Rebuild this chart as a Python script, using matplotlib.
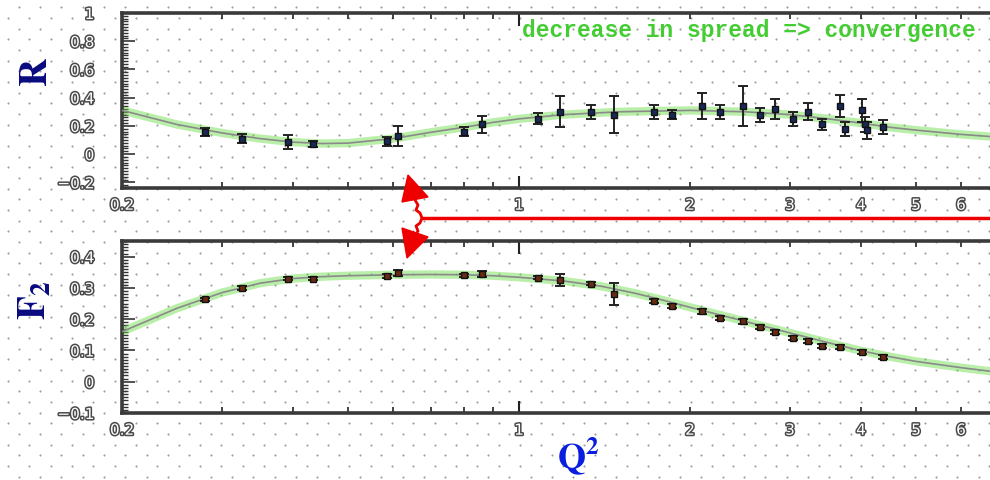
import numpy as np
import matplotlib
matplotlib.use("Agg")
import matplotlib.pyplot as plt
from matplotlib.ticker import FixedLocator, FixedFormatter, MultipleLocator, NullFormatter
from matplotlib.patches import Polygon
import matplotlib.patheffects as pe

plt.rcParams["mathtext.fontset"] = "stix"

# R = sigma_L / sigma_T measurements
r_q2 = [0.28, 0.325, 0.392, 0.434, 0.586, 0.612, 0.80, 0.86, 1.08, 1.18, 1.34, 1.47,
        1.73, 1.86, 2.10, 2.26, 2.48, 2.66, 2.82, 3.04, 3.23, 3.41, 3.67, 3.75,
        4.02, 4.07, 4.10, 4.37]
r_val = [0.156, 0.11, 0.085, 0.07, 0.09, 0.13, 0.16, 0.21, 0.25, 0.30, 0.30, 0.28,
         0.30, 0.28, 0.34, 0.30, 0.34, 0.28, 0.32, 0.25, 0.30, 0.21, 0.34, 0.18,
         0.31, 0.21, 0.17, 0.19]
r_err = [0.03, 0.03, 0.05, 0.02, 0.03, 0.07, 0.03, 0.06, 0.04, 0.11, 0.05, 0.13,
         0.05, 0.03, 0.09, 0.05, 0.14, 0.05, 0.07, 0.05, 0.06, 0.04, 0.08, 0.05,
         0.08, 0.05, 0.06, 0.05]

# fit curve for R
r_fit_q2 = [0.2, 0.25, 0.3, 0.35, 0.4, 0.45, 0.5, 0.6, 0.7, 0.8, 0.9, 1.0, 1.2, 1.5,
            2.0, 2.5, 3.0, 3.5, 4.0, 4.5, 5.0, 6.0, 7.0, 10.0]
r_fit = [0.31, 0.21, 0.15, 0.11, 0.085, 0.075, 0.078, 0.11, 0.155, 0.19, 0.225, 0.25,
         0.28, 0.30, 0.31, 0.30, 0.28, 0.25, 0.22, 0.19, 0.17, 0.14, 0.12, 0.07]

# F2 measurements
f2_q2 = [0.28, 0.325, 0.392, 0.434, 0.586, 0.612, 0.80, 0.86, 1.08, 1.18, 1.34, 1.47,
         1.73, 1.86, 2.10, 2.26, 2.48, 2.66, 2.82, 3.04, 3.23, 3.41, 3.67, 4.02, 4.37]
f2_val = [0.263, 0.30, 0.33, 0.33, 0.337, 0.348, 0.340, 0.345, 0.333, 0.325, 0.314, 0.28,
          0.257, 0.241, 0.225, 0.203, 0.194, 0.175, 0.159, 0.14, 0.13, 0.114, 0.11,
          0.095, 0.079]
f2_err = [0.006, 0.006, 0.006, 0.006, 0.006, 0.01, 0.006, 0.01, 0.006, 0.018, 0.006, 0.035,
          0.006, 0.006, 0.008, 0.006, 0.008, 0.006, 0.006, 0.006, 0.006, 0.006, 0.006,
          0.006, 0.006]

# fit curve for F2
f2_fit_q2 = [0.2, 0.25, 0.3, 0.35, 0.4, 0.45, 0.5, 0.6, 0.7, 0.8, 0.9, 1.0, 1.2, 1.4,
             1.6, 1.8, 2.0, 2.5, 3.0, 3.5, 4.0, 4.5, 5.0, 6.0, 7.0, 10.0]
f2_fit = [0.16, 0.235, 0.285, 0.315, 0.33, 0.336, 0.339, 0.342, 0.343, 0.342, 0.339, 0.334,
          0.322, 0.305, 0.283, 0.26, 0.238, 0.193, 0.156, 0.125, 0.099, 0.08, 0.065, 0.045,
          0.03, 0.005]

x_major = [1]
x_minor = [0.2, 0.3, 0.4, 0.5, 0.6, 0.7, 0.8, 0.9, 2, 3, 4, 5, 6, 7, 8, 9]
x_minor_labels = ["0.2", "", "", "", "", "", "", "", "2", "3", "4", "5", "6", "", "", ""]

r_ticks = [-0.2, 0, 0.2, 0.4, 0.6, 0.8, 1]
r_tick_labels = ["\u22120.2", "0", "0.2", "0.4", "0.6", "0.8", "1"]
f2_ticks = [-0.1, 0, 0.1, 0.2, 0.3, 0.4]
f2_tick_labels = ["\u22120.1", "0", "0.1", "0.2", "0.3", "0.4"]

W, H = 990, 480
fig = plt.figure(figsize=(9.9, 4.8), dpi=100)
fig.patch.set_facecolor("white")

# dotted paper background, pixel coordinates
bg = fig.add_axes([0, 0, 1, 1], zorder=-5)
bg.set_xlim(0, W)
bg.set_ylim(H, 0)
bg.axis("off")
dx, dy = 64 / 3, 32 / 3
rows = np.arange(7.3, H, dy)
for k, yy in enumerate(rows):
    off = 18.7 if k % 2 == 0 else 18.7 + dx / 2
    xs = np.arange(off - dx, W + dx, dx)
    bg.scatter(xs, np.full_like(xs, yy), s=2.2, color="#9a9a9a", lw=0)

outline = [pe.withStroke(linewidth=2.2, foreground="#4a4a4a")]


def style_axes(ax, yticks, ylabels, ylim):
    ax.set_facecolor("none")
    ax.set_xscale("log")
    ax.set_xlim(0.2, 10)
    ax.set_ylim(*ylim)
    ax.xaxis.set_major_locator(FixedLocator(x_major))
    ax.xaxis.set_major_formatter(FixedFormatter(["1"]))
    ax.xaxis.set_minor_locator(FixedLocator(x_minor))
    ax.xaxis.set_minor_formatter(FixedFormatter(x_minor_labels))
    ax.yaxis.set_major_locator(FixedLocator(yticks))
    ax.yaxis.set_major_formatter(FixedFormatter(ylabels))
    ax.yaxis.set_minor_locator(MultipleLocator(0.02 if ylim[1] > 0.6 else 0.01))
    ax.yaxis.set_minor_formatter(NullFormatter())
    ax.tick_params(axis="x", which="both", direction="in", top=True, color="#222",
                   labelsize=11, pad=7, labelcolor="white")
    ax.tick_params(axis="x", which="major", length=9, width=1.5)
    ax.tick_params(axis="x", which="minor", length=4, width=1.2)
    ax.tick_params(axis="y", which="both", direction="in", color="#333",
                   labelsize=11, pad=20, labelcolor="white")
    ax.tick_params(axis="y", which="major", length=9, width=1.2)
    ax.tick_params(axis="y", which="minor", length=4, width=1)
    for lab in ax.get_xticklabels(which="both") + ax.get_yticklabels():
        lab.set_path_effects(outline)
        lab.set_family("DejaVu Sans")
    for sp in ax.spines.values():
        sp.set_linewidth(2.6)
        sp.set_color("#3a3a3a")


# top panel: R
ax1 = fig.add_axes([122 / W, 1 - 188 / H, 965 / W, 175 / H])
style_axes(ax1, r_ticks, r_tick_labels, (-0.24, 1.0))
ax1.plot(r_fit_q2, r_fit, color="#66dd44", lw=6, alpha=0.45, zorder=2)
ax1.plot(r_fit_q2, r_fit, color="#8a8a8a", lw=1.2, zorder=3)
ax1.errorbar(r_q2, r_val, yerr=r_err, fmt="s", ms=5, color="#1a2858", mec="#111",
             ecolor="#222", elinewidth=1.4, capsize=3.5, capthick=1.4, zorder=4)
fig.text(976 / W, 1 - 31 / H, "decrease in spread => convergence",
         ha="right", va="center", fontsize=16.5, fontweight="bold",
         family="Liberation Mono", color="#44cc33")

# bottom panel: F2
ax2 = fig.add_axes([122 / W, 1 - 413 / H, 965 / W, 172 / H])
style_axes(ax2, f2_ticks, f2_tick_labels, (-0.1, 0.45))
ax2.plot(f2_fit_q2, f2_fit, color="#66dd44", lw=6, alpha=0.45, zorder=2)
ax2.plot(f2_fit_q2, f2_fit, color="#8a8a8a", lw=1.2, zorder=3)
ax2.errorbar(f2_q2, f2_val, yerr=f2_err, fmt="s", ms=5, color="#6a2a12", mec="#111",
             ecolor="#222", elinewidth=1.4, capsize=3.5, capthick=1.4, zorder=4)

# axis titles
fig.text(36 / W, 1 - 72 / H, r"$\mathbf{R}$", rotation=90, ha="center", va="center",
         fontsize=28, color="#0a0a80")
fig.text(34 / W, 1 - 300 / H, r"$\mathbf{F_2}$", rotation=90, ha="center", va="center",
         fontsize=28, color="#0a0a80")
fig.text(578 / W, 1 - 456 / H, r"$\mathbf{Q^2}$", ha="center", va="center",
         fontsize=26, color="#0a1ee0")

# red brace with arrowheads between the panels
ov = fig.add_axes([0, 0, 1, 1], zorder=10)
ov.set_xlim(0, W)
ov.set_ylim(H, 0)
ov.axis("off")
ov.plot([415, 418, 416, 420, 422, 420, 416, 418, 415],
        [200, 205, 210, 213, 218, 223, 226, 231, 236], color="#ee0000", lw=2)
ov.plot([422, W], [218, 218], color="#ee0000", lw=2.5)
ov.add_patch(Polygon([[408, 175], [402, 202], [428, 197]], closed=True, color="#ee0000"))
ov.add_patch(Polygon([[407, 258], [402, 228], [428, 237]], closed=True, color="#ee0000"))

fig.savefig("out.png", dpi=100)
